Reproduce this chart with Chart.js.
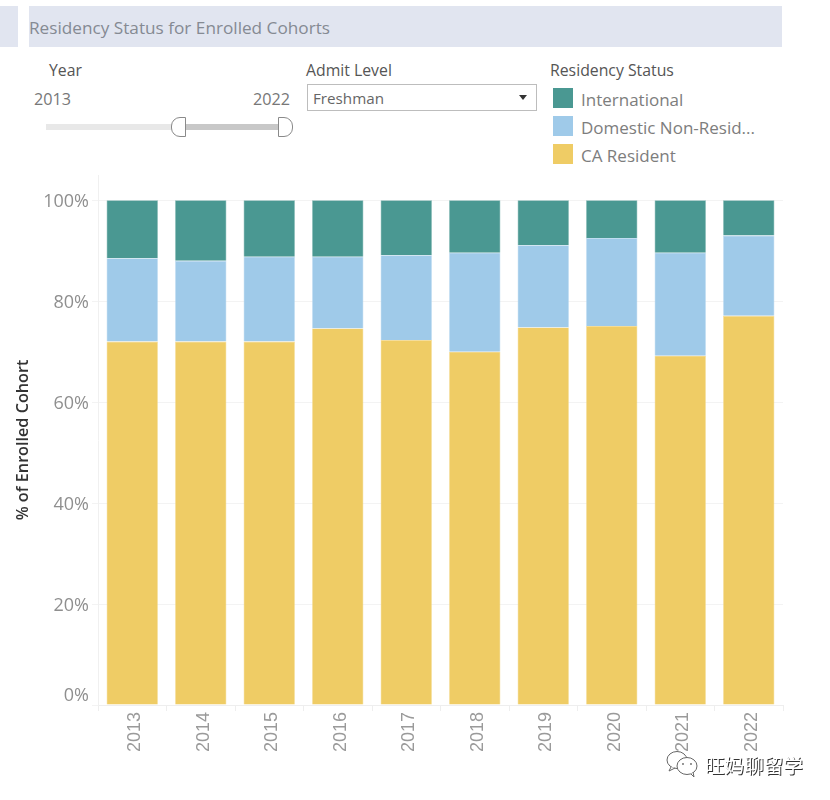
<!DOCTYPE html>
<html>
<head>
<meta charset="utf-8">
<title>Residency Status for Enrolled Cohorts</title>
<script src="https://cdn.jsdelivr.net/npm/chart.js@4/dist/chart.umd.min.js"></script>
<style>
  html, body { margin: 0; padding: 0; background: #fff; }
  body { width: 830px; height: 800px; position: relative; overflow: hidden; font-family: "Open Sans", sans-serif; }
  #chart { position: absolute; left: 0; top: 0; }
  .box { position: absolute; }
  .txt { position: absolute; white-space: nowrap; line-height: 20px; }
  .head { background: #e1e5f0; top: 6px; height: 41px; }
  .label { font-size: 15.8px; color: #555; }
  .value { font-size: 16.2px; color: #777; }
  .handle { top: 117px; width: 13px; height: 18px; background: #fff; border: 1px solid #8a8a8a; }
  .wm { text-shadow: 1px 1px 0 #333; color: #fff; }
</style>
</head>
<body>
<div class="box head" style="left:0;width:18px"></div>
<div class="box head" style="left:29px;width:753px"></div>
<div class="txt" style="left:29px;top:18px;font-size:17.2px;color:#858a93">Residency Status for Enrolled Cohorts</div>

<div class="txt label" style="left:49px;top:60px">Year</div>
<div class="txt value" style="left:34px;top:89px">2013</div>
<div class="txt value" style="left:253px;top:89px">2022</div>
<div class="box" style="left:46px;top:124px;width:233px;height:6px;background:#e8e8e8"></div>
<div class="box" style="left:184px;top:124px;width:95px;height:6px;background:#c8c8c8"></div>
<div class="box handle" style="left:171px;border-radius:9px 0 0 9px"></div>
<div class="box handle" style="left:278px;border-radius:0 9px 9px 0"></div>

<div class="txt label" style="left:306px;top:60px">Admit Level</div>
<div class="box" style="left:307px;top:84px;width:228px;height:25px;border:1px solid #bdbdbd"></div>
<div class="txt" style="left:313px;top:88px;font-size:15.2px;color:#666">Freshman</div>
<div class="box" style="left:519px;top:95px;width:0;height:0;border-left:4px solid transparent;border-right:4px solid transparent;border-top:5px solid #333"></div>

<div class="txt label" style="left:550px;top:60px">Residency Status</div>
<div id="legend"></div>

<canvas id="chart" width="830" height="800"></canvas>

<svg class="box" style="left:665px;top:750px" width="34" height="28" viewBox="0 0 34 28" fill="#fff" stroke="#666" stroke-width="1">
  <ellipse cx="12" cy="10" rx="10" ry="8.5"/>
  <path d="M6 17 L4 21 L10 18"/>
  <ellipse cx="22" cy="16" rx="10" ry="8.5"/>
  <path d="M26 24 L29 27 L28 22"/>
  <circle cx="18" cy="14" r="0.6"/>
  <circle cx="26" cy="14" r="0.6"/>
</svg>
<div class="txt wm" style="left:705px;top:754px;font-family:'Noto Sans CJK SC';font-size:19.6px;line-height:22px">旺妈聊留学</div>

<script>
const years = ['2013', '2014', '2015', '2016', '2017', '2018', '2019', '2020', '2021', '2022'];
const caResident = [72.0, 72.0, 72.0, 74.6, 72.3, 70.0, 74.8, 75.1, 69.2, 77.1];
const domesticNonResident = [16.5, 16.0, 16.8, 14.2, 16.8, 19.6, 16.3, 17.4, 20.4, 15.9];
const international = [11.5, 12.0, 11.2, 11.2, 10.9, 10.4, 8.9, 7.5, 10.4, 7.0];
const yTicks = [0, 20, 40, 60, 80, 100];

const legendNames = ['International', 'Domestic Non-Resid...', 'CA Resident'];
const legendColors = ['#4a9892', '#9fcae9', '#efcc65'];

// legend sits in the filter strip above the chart, same as the dashboard
const legendEl = document.getElementById('legend');
legendNames.forEach((name, i) => {
    const top = 87.5 + i * 28.2;
    legendEl.innerHTML +=
        '<div class="box" style="left:553px;top:' + top + 'px;width:20px;height:20px;background:' + legendColors[i] + '"></div>' +
        '<div class="txt" style="left:581px;top:' + (top + 2) + 'px;font-size:17px;color:#7d7d7d">' + name + '</div>';
});

function makeDataset(label, values, color, edge) {
    return {
        label: label,
        data: values,
        backgroundColor: color,
        borderColor: edge,
        borderWidth: 0.6,
        barPercentage: 0.75,
        categoryPercentage: 1
    };
}

const ctx = document.getElementById('chart').getContext('2d');
new Chart(ctx, {
    type: 'bar',
    data: {
        labels: years,
        datasets: [
            makeDataset('CA Resident', caResident, legendColors[2], '#f4dc96'),
            makeDataset('Domestic Non-Resident', domesticNonResident, legendColors[1], '#bcdaf0'),
            makeDataset('International', international, legendColors[0], '#7fb5b1')
        ]
    },
    options: {
        responsive: false,
        animation: false,
        layout: { padding: { left: 0, right: 47, top: 175, bottom: 0 } },
        plugins: {
            legend: { display: false },
            title: { display: false },
            tooltip: { enabled: false }
        },
        scales: {
            x: {
                stacked: true,
                afterFit: (scale) => { scale.height = 95; },
                grid: { drawOnChartArea: false, color: '#eeeeee', tickLength: 6 },
                border: { color: '#eeeeee' },
                ticks: {
                    minRotation: 90,
                    maxRotation: 90,
                    padding: 1,
                    labelOffset: 3,
                    color: '#9a9a9a',
                    font: { family: '"Liberation Sans"', size: 18 }
                }
            },
            y: {
                stacked: true,
                min: 0,
                max: 105,
                afterFit: (scale) => { scale.width = 98; },
                afterBuildTicks: (scale) => { scale.ticks = yTicks.map(v => ({ value: v })); },
                grid: { color: '#f3f3f3', tickLength: 6 },
                border: { color: '#f0f0f0' },
                ticks: {
                    padding: 3,
                    labelOffset: 2,
                    color: '#8f8f8f',
                    font: { family: '"Open Sans"', size: 18 },
                    // blank second line lifts the 0% label off the baseline
                    callback: (v) => v === 0 ? ['0%', ''] : v + '%'
                },
                title: {
                    display: true,
                    text: '% of Enrolled Cohort',
                    color: '#333',
                    font: { family: '"Open Sans"', size: 16.2, weight: '600' },
                    padding: { top: 14, bottom: 0 }
                }
            }
        }
    }
});
</script>
</body>
</html>
